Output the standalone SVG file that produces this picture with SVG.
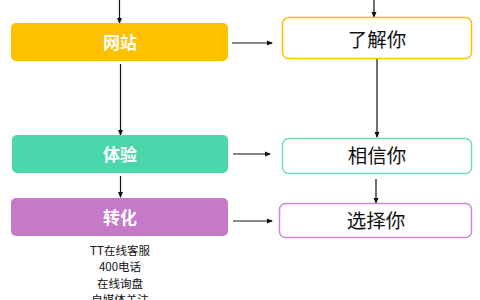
<svg xmlns="http://www.w3.org/2000/svg" width="480" height="300" viewBox="0 0 480 300">
<style>
.lbl{font-family:"Noto Sans CJK SC","Liberation Sans",sans-serif;text-anchor:middle;}
.w{fill:#ffffff;font-size:17px;font-weight:bold;}
.k{fill:#111111;font-size:19.5px;}
.s{fill:#111111;font-size:11.5px;}
.c{stroke:#111111;stroke-width:1.2;fill:none;marker-end:url(#ah);}
</style>
<defs>
<marker id="ah" viewBox="0 0 10 10" refX="10" refY="5" markerWidth="5" markerHeight="5" markerUnits="userSpaceOnUse" orient="auto" style="overflow:visible">
<path d="M0,0 L10,5 L0,10 z" fill="#111111" transform="scale(1.2,1)"/>
</marker>
</defs>
<rect width="480" height="300" fill="#ffffff"/>
<g id="connectors">
<path class="c" d="M119.5,0 V23"/>
<path class="c" d="M120.5,64 V135"/>
<path class="c" d="M120.5,176 V197"/>
<path class="c" d="M374,0 V17"/>
<path class="c" d="M377,59 V137"/>
<path class="c" d="M376,179 V203"/>
<path class="c" d="M232,43 H272"/>
<path class="c" d="M233,154 H270"/>
<path class="c" d="M233,221 H272"/>
</g>
<g id="node-wangzhan">
<rect x="11" y="23" width="217" height="38" rx="5" fill="#FFC000"/>
<text class="lbl w" x="120" y="48.5">网站</text>
</g>
<g id="node-tiyan">
<rect x="12" y="135" width="216" height="38" rx="5" fill="#4BD6AC"/>
<text class="lbl w" x="120" y="160.5">体验</text>
</g>
<g id="node-zhuanhua">
<rect x="11" y="198" width="217" height="38" rx="5" fill="#C679C9"/>
<text class="lbl w" x="120" y="223.5">转化</text>
</g>
<g id="node-liaojieni">
<rect x="282.5" y="17.5" width="189" height="41" rx="6" fill="#ffffff" stroke="#FFC000" stroke-width="1.5"/>
<text class="lbl k" x="377" y="46.5">了解你</text>
</g>
<g id="node-xiangxinni">
<rect x="282.5" y="138.5" width="189" height="35" rx="6" fill="#ffffff" stroke="#6EDDBB" stroke-width="1.5"/>
<text class="lbl k" x="377" y="162.5">相信你</text>
</g>
<g id="node-xuanzeni">
<rect x="279.5" y="203.5" width="192" height="34" rx="6" fill="#ffffff" stroke="#C98AD3" stroke-width="1.5"/>
<text class="lbl k" x="376" y="227.5">选择你</text>
</g>
<g id="notes">
<text class="lbl s" x="120" y="254.5">TT在线客服</text>
<text class="lbl s" x="120" y="271">400电话</text>
<text class="lbl s" x="120" y="287.5">在线询盘</text>
<text class="lbl s" x="120" y="304">自媒体关注</text>
</g>
</svg>
